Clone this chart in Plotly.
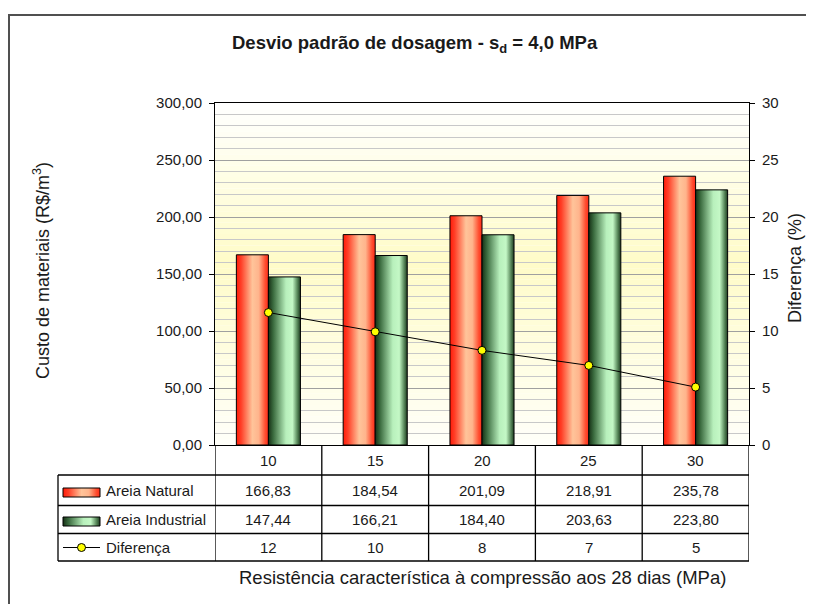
import plotly.graph_objects as go

# ---------------- data ----------------
categories = ["10", "15", "20", "25", "30"]
areia_natural = [166.83, 184.54, 201.09, 218.91, 235.78]
areia_industrial = [147.44, 166.21, 184.40, 203.63, 223.80]
diferenca = [11.62, 9.93, 8.30, 6.98, 5.08]
series_names = ["Areia Natural", "Areia Industrial", "Diferença"]
left_tickvals = [0, 50, 100, 150, 200, 250, 300]
right_tickvals = [0, 5, 10, 15, 20, 25, 30]

# ---------------- helpers ----------------
# page body has an 8px margin; figure fills the rest of the 814x604 window
OFF = 8
W, H = 814 - OFF, 604 - OFF
FONT = "Liberation Sans, Arial, sans-serif"
TXT = "#1a1a1a"


def px(x):
    return (x - OFF) / W


def py(y):
    return 1 - (y - OFF) / H


def br(v):
    return f"{v:.2f}".replace(".", ",")


RED_SCALE = [[0, "#ff1a08"], [0.15, "#ff4028"], [0.5, "#ffc49a"], [0.7, "#ffb48c"],
             [0.9, "#ff4e30"], [1, "#ff2a18"]]
GREEN_SCALE = [[0, "#163016"], [0.15, "#3a6a3e"], [0.55, "#b8f0bc"], [0.75, "#c4f8c6"],
               [0.9, "#5a8a5c"], [1, "#1e3c20"]]

fig = go.Figure()

BW = 0.3
n = len(categories)

# bars as gradient-filled polygons on the category axis
for i, v in enumerate(areia_natural):
    fig.add_trace(go.Scatter(
        x=[i - BW, i - BW, i, i, i - BW], y=[0, v, v, 0, 0],
        mode="lines", fill="toself", line=dict(color="black", width=1),
        fillgradient=dict(type="horizontal", colorscale=RED_SCALE),
        hoverinfo="skip", showlegend=False, xaxis="x", yaxis="y"))
for i, v in enumerate(areia_industrial):
    fig.add_trace(go.Scatter(
        x=[i, i, i + BW, i + BW, i], y=[0, v, v, 0, 0],
        mode="lines", fill="toself", line=dict(color="black", width=1),
        fillgradient=dict(type="horizontal", colorscale=GREEN_SCALE),
        hoverinfo="skip", showlegend=False, xaxis="x", yaxis="y"))

# difference line on right axis
fig.add_trace(go.Scatter(
    x=list(range(n)), y=diferenca, mode="lines+markers",
    line=dict(color="black", width=1),
    marker=dict(color="#ffff00", size=8, line=dict(color="black", width=1)),
    showlegend=False, xaxis="x", yaxis="y2"))

# legend swatches inside the table (pixel overlay axes)
sw_x0, sw_x1 = 63, 100
for (y0, y1), scale in [((488, 497), RED_SCALE), ((517, 526), GREEN_SCALE)]:
    fig.add_trace(go.Scatter(
        x=[sw_x0, sw_x0, sw_x1, sw_x1, sw_x0], y=[y1, y0, y0, y1, y1],
        mode="lines", fill="toself", line=dict(color="black", width=1),
        fillgradient=dict(type="horizontal", colorscale=scale),
        hoverinfo="skip", showlegend=False, xaxis="x3", yaxis="y3"))
fig.add_trace(go.Scatter(
    x=[sw_x0, sw_x1], y=[547.5, 547.5], mode="lines",
    line=dict(color="black", width=1), hoverinfo="skip", showlegend=False,
    xaxis="x3", yaxis="y3"))
fig.add_trace(go.Scatter(
    x=[(sw_x0 + sw_x1) / 2], y=[547.5], mode="markers",
    marker=dict(color="#ffff00", size=8, line=dict(color="black", width=1)),
    hoverinfo="skip", showlegend=False, xaxis="x3", yaxis="y3"))

shapes = []


def bg_color(t):
    peak = 160.0
    if t >= peak:
        f = (300 - t) / (300 - peak)
    else:
        f = 0.1 + 0.9 * (t / peak)
    f = max(0.0, min(1.0, f))
    g = round(255 - 3 * f)
    b = round(255 - 55 * f)
    return f"rgb(255,{g},{b})"


step = 5
for k in range(0, 300, step):
    shapes.append(dict(type="rect", xref="x", yref="y", x0=-0.5, x1=n - 0.5,
                       y0=k, y1=k + step, fillcolor=bg_color(k + step / 2),
                       line=dict(width=0), layer="below"))

# table grid
LW = 1.3
tab_top, r1, r2, r3, tab_bot = 445, 475, 505.5, 533.5, 561
left_px = 58
for i in range(n + 1):
    shapes.append(dict(type="line", xref="x", yref="paper", x0=i - 0.5, x1=i - 0.5,
                       y0=py(tab_top), y1=py(tab_bot), line=dict(color="black", width=LW)))
shapes.append(dict(type="line", xref="paper", yref="paper", x0=px(left_px), x1=px(left_px),
                   y0=py(r1), y1=py(tab_bot), line=dict(color="black", width=LW)))
for yy in [r1, r2, r3, tab_bot]:
    shapes.append(dict(type="line", xref="paper", yref="paper", x0=px(left_px), x1=px(749),
                       y0=py(yy), y1=py(yy), line=dict(color="black", width=LW)))
# outer frame
shapes.append(dict(type="rect", xref="paper", yref="paper", x0=px(9), x1=px(840),
                   y0=py(15), y1=py(660), line=dict(color="#505050", width=2)))

annotations = []
cell_font = dict(family=FONT, size=15, color=TXT)
row_centers = [(tab_top + r1) / 2, (r1 + r2) / 2, (r2 + r3) / 2, (r3 + tab_bot) / 2]
for i, c in enumerate(categories):
    annotations.append(dict(x=i, y=py(row_centers[0]), xref="x", yref="paper", text=c,
                            showarrow=False, font=cell_font, xanchor="center", yanchor="middle"))
    annotations.append(dict(x=i, y=py(row_centers[1]), xref="x", yref="paper",
                            text=br(areia_natural[i]), showarrow=False, font=cell_font,
                            xanchor="center", yanchor="middle"))
    annotations.append(dict(x=i, y=py(row_centers[2]), xref="x", yref="paper",
                            text=br(areia_industrial[i]), showarrow=False, font=cell_font,
                            xanchor="center", yanchor="middle"))
    annotations.append(dict(x=i, y=py(row_centers[3]), xref="x", yref="paper",
                            text=f"{round(diferenca[i]):d}", showarrow=False, font=cell_font,
                            xanchor="center", yanchor="middle"))
for k, name in enumerate(series_names):
    annotations.append(dict(x=px(105), y=py(row_centers[k + 1]), xref="paper", yref="paper",
                            text=name, showarrow=False, font=cell_font,
                            xanchor="left", yanchor="middle", borderpad=0))

# titles
annotations.append(dict(x=px(415), y=py(44), xref="paper", yref="paper",
                        text="<b>Desvio padrão de dosagem - s<sub>d</sub> = 4,0 MPa</b>",
                        showarrow=False, font=dict(family=FONT, size=18.5, color=TXT),
                        xanchor="center", yanchor="middle"))
annotations.append(dict(x=px(41), y=py(271), xref="paper", yref="paper",
                        text="Custo de materiais (R$/m<sup>3</sup>)", textangle=-90,
                        showarrow=False, font=dict(family=FONT, size=18, color=TXT),
                        xanchor="center", yanchor="middle"))
annotations.append(dict(x=px(795), y=py(268), xref="paper", yref="paper",
                        text="Diferença (%)", textangle=-90,
                        showarrow=False, font=dict(family=FONT, size=18, color=TXT),
                        xanchor="center", yanchor="middle"))
annotations.append(dict(x=px(483), y=py(577), xref="paper", yref="paper",
                        text="Resistência característica à compressão aos 28 dias (MPa)",
                        showarrow=False, font=dict(family=FONT, size=18.5, color=TXT),
                        xanchor="center", yanchor="middle"))

tick_font = dict(family=FONT, size=15, color=TXT)
fig.update_layout(
    width=W, height=H,
    margin=dict(l=0, r=0, t=0, b=0, pad=0, autoexpand=False),
    paper_bgcolor="white", plot_bgcolor="rgba(0,0,0,0)",
    separators=",.",
    showlegend=False,
    xaxis=dict(domain=[px(215), px(749)], range=[-0.5, n - 0.5], showticklabels=False,
               ticks="", showgrid=False, zeroline=False, showline=True, mirror=True,
               linecolor="black", linewidth=1, fixedrange=True, anchor="y",
               automargin=False),
    yaxis=dict(domain=[py(445), py(103)], range=[0, 300], tickvals=left_tickvals,
               tickformat=".2f", tickfont=tick_font, ticks="outside", ticklen=5,
               tickcolor="black", showgrid=True, gridcolor="#a0a0a0", gridwidth=1,
               minor=dict(dtick=10, showgrid=True, gridcolor="#c8c8c8", gridwidth=1.2),
               zeroline=False, showline=True, linecolor="black", linewidth=1,
               ticklabelstandoff=4, anchor="x", automargin=False),
    yaxis2=dict(overlaying="y", side="right", range=[0, 30], tickvals=right_tickvals,
                tickformat="d", tickfont=tick_font, ticks="outside", ticklen=5,
                tickcolor="black", showgrid=False, zeroline=False, showline=True,
                linecolor="black", linewidth=1, ticklabelstandoff=4, anchor="x",
                automargin=False),
    # overlay axes in page-pixel units (x right, y down)
    xaxis3=dict(domain=[0, 1], range=[OFF, OFF + W], visible=False, fixedrange=True,
                anchor="y3", automargin=False),
    yaxis3=dict(domain=[0, 1], range=[OFF + H, OFF], visible=False, fixedrange=True,
                anchor="x3", automargin=False),
    shapes=shapes,
    annotations=annotations,
)

fig.write_html("out.html")
